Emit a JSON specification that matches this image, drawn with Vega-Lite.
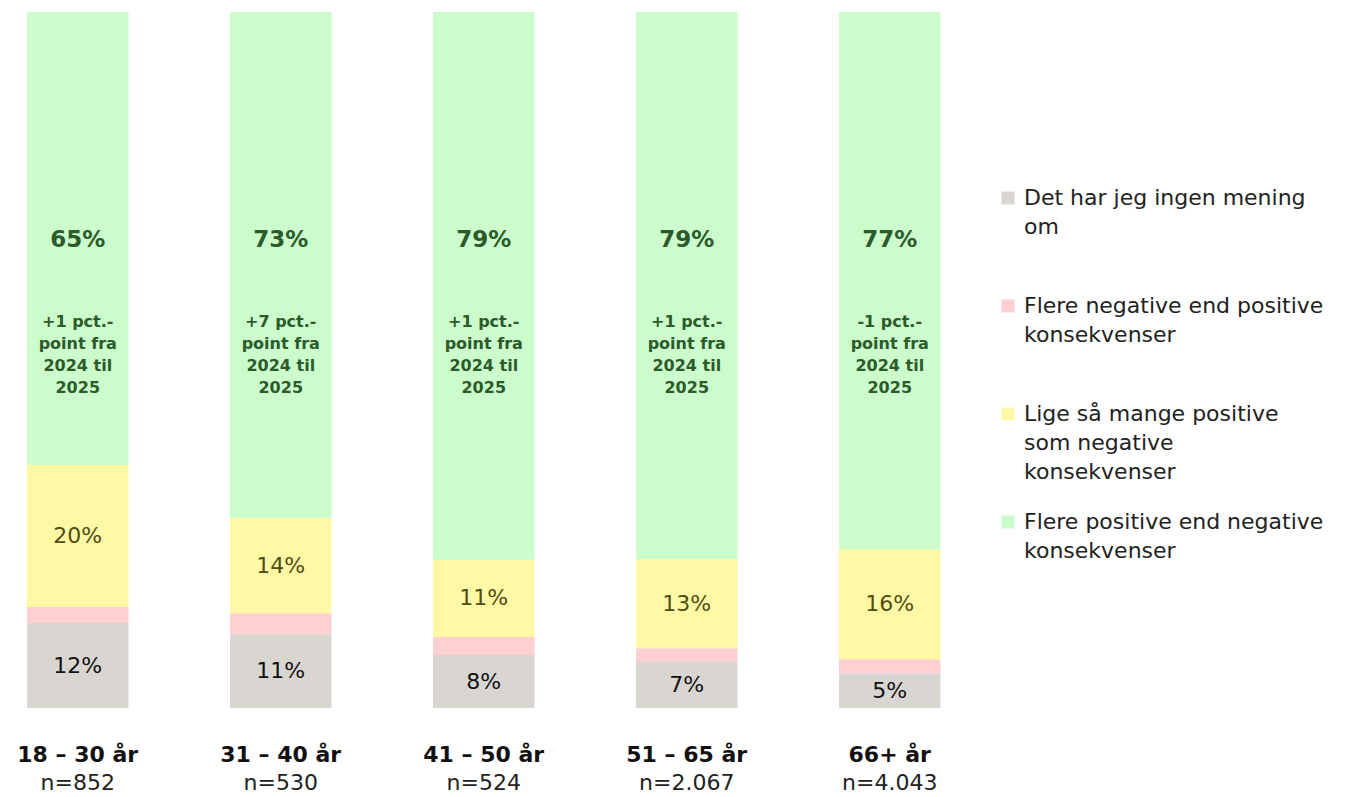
{
  "$schema": "https://vega.github.io/schema/vega-lite/v6.json",
  "width": 913.5,
  "height": 696,
  "autosize": {"type": "none"},
  "padding": {"left": 27, "top": 12, "right": 407.5, "bottom": 89},
  "background": "white",
  "config": {
    "view": {"stroke": null},
    "font": "DejaVu Sans",
    "text": {"font": "DejaVu Sans"},
    "style": {"guide-label": {"lineHeight": 29}}
  },
  "data": {
    "values": [
      {"group": "18 – 30 år", "n": "n=852", "cat": "Det har jeg ingen mening om", "k": 1, "value": 0.122, "note": ""},
      {"group": "18 – 30 år", "n": "n=852", "cat": "Flere negative end positive konsekvenser", "k": 2, "value": 0.023, "note": ""},
      {"group": "18 – 30 år", "n": "n=852", "cat": "Lige så mange positive som negative konsekvenser", "k": 3, "value": 0.204, "note": ""},
      {"group": "18 – 30 år", "n": "n=852", "cat": "Flere positive end negative konsekvenser", "k": 4, "value": 0.651, "note": "+1  pct.-\npoint fra\n2024 til\n2025"},
      {"group": "31 – 40 år", "n": "n=530", "cat": "Det har jeg ingen mening om", "k": 1, "value": 0.106, "note": ""},
      {"group": "31 – 40 år", "n": "n=530", "cat": "Flere negative end positive konsekvenser", "k": 2, "value": 0.030, "note": ""},
      {"group": "31 – 40 år", "n": "n=530", "cat": "Lige så mange positive som negative konsekvenser", "k": 3, "value": 0.137, "note": ""},
      {"group": "31 – 40 år", "n": "n=530", "cat": "Flere positive end negative konsekvenser", "k": 4, "value": 0.727, "note": "+7  pct.-\npoint fra\n2024 til\n2025"},
      {"group": "41 – 50 år", "n": "n=524", "cat": "Det har jeg ingen mening om", "k": 1, "value": 0.076, "note": ""},
      {"group": "41 – 50 år", "n": "n=524", "cat": "Flere negative end positive konsekvenser", "k": 2, "value": 0.026, "note": ""},
      {"group": "41 – 50 år", "n": "n=524", "cat": "Lige så mange positive som negative konsekvenser", "k": 3, "value": 0.111, "note": ""},
      {"group": "41 – 50 år", "n": "n=524", "cat": "Flere positive end negative konsekvenser", "k": 4, "value": 0.787, "note": "+1  pct.-\npoint fra\n2024 til\n2025"},
      {"group": "51 – 65 år", "n": "n=2.067", "cat": "Det har jeg ingen mening om", "k": 1, "value": 0.066, "note": ""},
      {"group": "51 – 65 år", "n": "n=2.067", "cat": "Flere negative end positive konsekvenser", "k": 2, "value": 0.020, "note": ""},
      {"group": "51 – 65 år", "n": "n=2.067", "cat": "Lige så mange positive som negative konsekvenser", "k": 3, "value": 0.128, "note": ""},
      {"group": "51 – 65 år", "n": "n=2.067", "cat": "Flere positive end negative konsekvenser", "k": 4, "value": 0.786, "note": "+1  pct.-\npoint fra\n2024 til\n2025"},
      {"group": "66+ år", "n": "n=4.043", "cat": "Det har jeg ingen mening om", "k": 1, "value": 0.050, "note": ""},
      {"group": "66+ år", "n": "n=4.043", "cat": "Flere negative end positive konsekvenser", "k": 2, "value": 0.020, "note": ""},
      {"group": "66+ år", "n": "n=4.043", "cat": "Lige så mange positive som negative konsekvenser", "k": 3, "value": 0.158, "note": ""},
      {"group": "66+ år", "n": "n=4.043", "cat": "Flere positive end negative konsekvenser", "k": 4, "value": 0.772, "note": "-1  pct.-\npoint fra\n2024 til\n2025"}
    ]
  },
  "transform": [
    {"stack": "value", "groupby": ["group"], "sort": [{"field": "k", "order": "ascending"}], "as": ["v0", "v1"]},
    {"calculate": "(datum.v0 + datum.v1) / 2", "as": "mid"}
  ],
  "layer": [
    {
      "encoding": {
        "x": {
          "field": "group", "type": "nominal", "sort": null,
          "scale": {"type": "band", "paddingInner": 0.5, "paddingOuter": 0},
          "axis": {"orient": "bottom", "title": null, "domain": false, "ticks": false, "labelAngle": 0,
                   "labelPadding": 36, "labelFontSize": 22, "labelFontWeight": "bold", "labelColor": "#111111", "labelFont": "DejaVu Sans"}
        }
      },
      "layer": [
        {
          "mark": {"type": "bar"},
          "encoding": {
            "y": {"field": "v0", "type": "quantitative", "scale": {"domain": [0, 1]}, "axis": null},
            "y2": {"field": "v1"},
            "color": {
              "field": "cat", "type": "nominal",
              "scale": {
                "domain": ["Det har jeg ingen mening om", "Flere negative end positive konsekvenser", "Lige så mange positive som negative konsekvenser", "Flere positive end negative konsekvenser"],
                "range": ["#d9d5d1", "#ffd0d1", "#fff9a6", "#ccfccb"]
              },
              "legend": {
                "title": null, "orient": "none", "legendX": 970, "legendY": 175,
                "symbolType": "square", "symbolSize": 170, "symbolStrokeWidth": 0,
                "labelFontSize": 22, "labelColor": "#222222", "labelFont": "DejaVu Sans",
                "labelLimit": 400, "rowPadding": 28, "gridAlign": "all", "labelOffset": 5,
                "labelExpr": "datum.label == 'Det har jeg ingen mening om' ? ['Det har jeg ingen mening', 'om'] : datum.label == 'Flere negative end positive konsekvenser' ? ['Flere negative end positive', 'konsekvenser'] : datum.label == 'Lige så mange positive som negative konsekvenser' ? ['Lige så mange positive', 'som negative', 'konsekvenser'] : ['Flere positive end negative', 'konsekvenser']"
              }
            }
          }
        },
        {
          "transform": [{"filter": "datum.k == 1 || datum.k == 3"}],
          "mark": {"type": "text", "fontSize": 22, "baseline": "middle"},
          "encoding": {
            "y": {"field": "mid", "type": "quantitative"},
            "text": {"field": "value", "type": "quantitative", "format": ".0%"},
            "color": {"condition": {"test": "datum.k == 3", "value": "#4f4c12"}, "value": "#111111"}
          }
        },
        {
          "transform": [{"filter": "datum.k == 4"}],
          "mark": {"type": "text", "fontSize": 23, "fontWeight": "bold", "color": "#2b5a2b", "baseline": "middle"},
          "encoding": {
            "y": {"datum": 0.672},
            "text": {"field": "value", "type": "quantitative", "format": ".0%"}
          }
        }
      ]
    },
    {
      "transform": [{"filter": "datum.k == 4"}],
      "mark": {"type": "text", "fontSize": 16, "fontWeight": "bold", "color": "#2b5a2b", "baseline": "middle", "lineBreak": "\n", "lineHeight": 22, "letterSpacing": -0.5},
      "encoding": {
        "x": {
          "field": "n", "type": "nominal", "sort": null,
          "scale": {"type": "band", "paddingInner": 0.5, "paddingOuter": 0},
          "axis": {"orient": "bottom", "title": null, "domain": false, "ticks": false, "labelAngle": 0,
                   "labelPadding": 64, "labelFontSize": 22, "labelFontWeight": "normal", "labelColor": "#222222", "labelFont": "DejaVu Sans"}
        },
        "y": {"datum": 0.555},
        "text": {"field": "note"}
      }
    }
  ],
  "resolve": {"scale": {"x": "independent"}, "axis": {"x": "independent"}}
}
